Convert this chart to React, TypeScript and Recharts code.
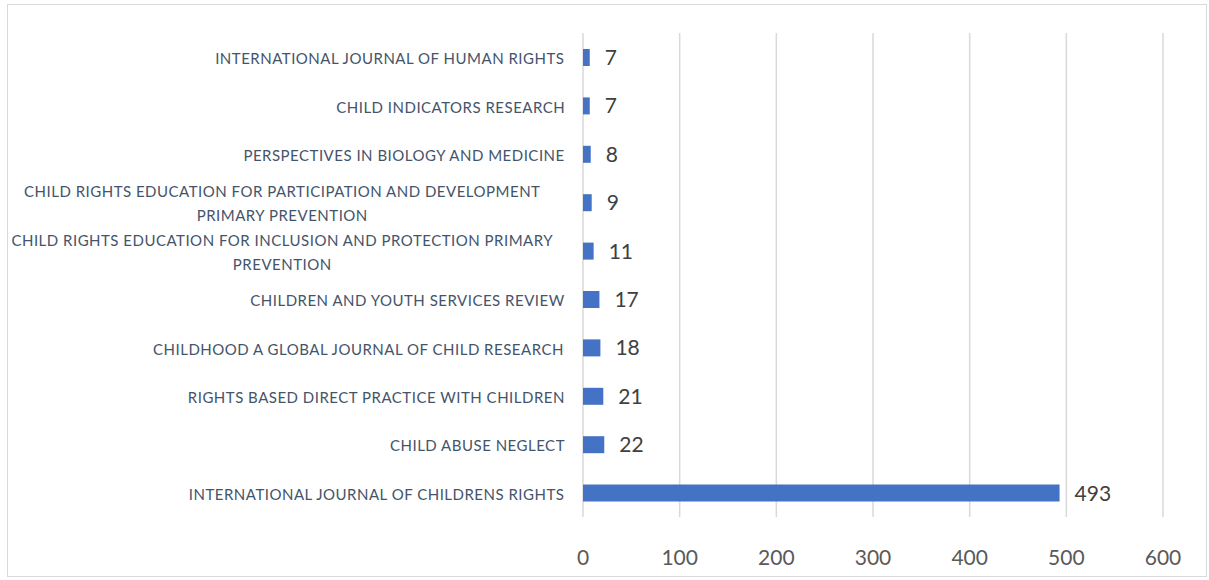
import React from 'react';
import { BarChart, Bar, XAxis, YAxis, CartesianGrid, LabelList } from 'recharts';

const journals = [
  'INTERNATIONAL JOURNAL OF HUMAN RIGHTS',
  'CHILD INDICATORS RESEARCH',
  'PERSPECTIVES IN BIOLOGY AND MEDICINE',
  'CHILD RIGHTS EDUCATION FOR PARTICIPATION AND DEVELOPMENT PRIMARY PREVENTION',
  'CHILD RIGHTS EDUCATION FOR INCLUSION AND PROTECTION PRIMARY PREVENTION',
  'CHILDREN AND YOUTH SERVICES REVIEW',
  'CHILDHOOD A GLOBAL JOURNAL OF CHILD RESEARCH',
  'RIGHTS BASED DIRECT PRACTICE WITH CHILDREN',
  'CHILD ABUSE NEGLECT',
  'INTERNATIONAL JOURNAL OF CHILDRENS RIGHTS',
];

const counts = [7, 7, 8, 9, 11, 17, 18, 21, 22, 493];

const xTicks = [0, 100, 200, 300, 400, 500, 600];

const data = journals.map((name, i) => ({ name, count: counts[i] }));

const FONT = 'Lato, "Open Sans", sans-serif';
const CAT_SIZE = 15;
const CAT_SPACING = 0.5;
const MAX_LINE = 552;
// wrapped labels are centred in a fixed-width box that ends at the tick
const WRAP_BOX = 566;

let ctx: CanvasRenderingContext2D | null = null;
const measure = (text: string) => {
  if (!ctx) ctx = document.createElement('canvas').getContext('2d');
  if (!ctx) return text.length * 9;
  ctx.font = `${CAT_SIZE}px ${FONT}`;
  return ctx.measureText(text).width + text.length * CAT_SPACING;
};

const wrap = (text: string) => {
  const words = text.split(' ');
  const lines: string[] = [];
  let cur = '';
  words.forEach(w => {
    const next = cur ? `${cur} ${w}` : w;
    if (cur && measure(next) > MAX_LINE) {
      lines.push(cur);
      cur = w;
    } else {
      cur = next;
    }
  });
  if (cur) lines.push(cur);
  return lines;
};

const CategoryTick = (props: any) => {
  const { x, y, payload } = props;
  const lines = wrap(payload.value);
  const right = x - 10;
  const cx = lines.length > 1 ? right - WRAP_BOX / 2 : right - measure(lines[0]) / 2;
  const lineH = 24;
  const top = y + 1 - ((lines.length - 1) * lineH) / 2;
  return (
    <g>
      {lines.map((line, i) => (
        <text
          key={i}
          x={cx + CAT_SPACING / 2}
          y={top + i * lineH}
          textAnchor="middle"
          dominantBaseline="central"
          fontSize={CAT_SIZE}
          fontFamily={FONT}
          letterSpacing={CAT_SPACING}
          fill="#44546A"
        >
          {line}
        </text>
      ))}
    </g>
  );
};

const ValueTick = (props: any) => {
  const { x, y, payload } = props;
  return (
    <text
      x={x}
      y={y + 31}
      textAnchor="middle"
      dominantBaseline="central"
      fontSize={21}
      fontFamily={FONT}
      fill="#595959"
    >
      {payload.value}
    </text>
  );
};

export default function App() {
  return (
    <div
      style={{
        position: 'absolute',
        left: 7,
        top: 4,
        width: 1200,
        height: 573,
        border: '1px solid #d9d9d9',
        boxSizing: 'border-box',
        background: '#fff',
      }}
    >
      <BarChart
        width={1198}
        height={571}
        data={data}
        layout="vertical"
        margin={{ top: 28, right: 43, bottom: 29, left: 0 }}
        barCategoryGap={0}
      >
        <CartesianGrid horizontal={false} stroke="#d9d9d9" strokeWidth={1.5} />
        <XAxis
          type="number"
          domain={[0, 600]}
          ticks={xTicks}
          axisLine={false}
          tickLine={false}
          height={30}
          tick={<ValueTick />}
          interval={0}
        />
        <YAxis
          type="category"
          dataKey="name"
          width={575}
          axisLine={false}
          tickLine={false}
          tick={<CategoryTick />}
          interval={0}
        />
        <Bar dataKey="count" fill="#4472C4" barSize={17} isAnimationActive={false}>
          <LabelList
            dataKey="count"
            position="right"
            offset={15}
            fontSize={21}
            fontFamily={FONT}
            fill="#404040"
          />
        </Bar>
      </BarChart>
    </div>
  );
}
